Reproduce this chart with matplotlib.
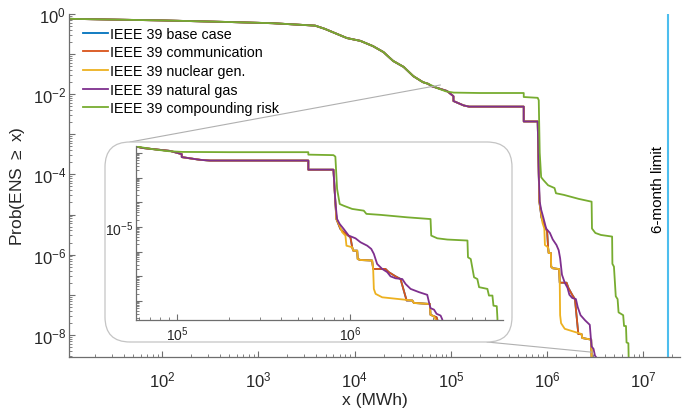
#!/usr/bin/python

import numpy as np
import matplotlib
matplotlib.use("Agg")
import matplotlib.pyplot as plt
from matplotlib.patches import FancyBboxPatch, ConnectionPatch
from matplotlib.ticker import LogLocator, FixedLocator, FuncFormatter, NullFormatter

plt.rcParams['font.family'] = ['Liberation Sans', 'DejaVu Sans']
plt.rcParams['mathtext.default'] = 'regular'

# ---- data as log10 values ----
# shared head of all curves (log10 MWh, log10 prob)
head_lx = [1.03, 2.0, 2.7, 3.15, 3.59, 3.69, 3.82, 3.92, 4.06, 4.19, 4.30, 4.40, 4.51, 4.61, 4.71, 4.763]
head_ly = [-0.12, -0.16, -0.20, -0.23, -0.29, -0.37, -0.50, -0.60, -0.67, -0.80, -0.95, -1.17, -1.32, -1.55, -1.70, -1.74]

# natural gas, up to the big drop (shared with comm / nuclear)
gas_mid_lx = [4.80, 4.96, 5.027, 5.027, 5.094, 5.133, 5.19, 5.757, 5.757, 5.902]
gas_mid_ly = [-1.80, -1.92, -2.05, -2.17, -2.24, -2.28, -2.31, -2.31, -2.68, -2.68]

gas_tail_lx = [5.913, 5.923, 5.938, 5.961, 5.990, 6.029, 6.058, 6.097, 6.120, 6.135, 6.154, 6.183,
               6.212, 6.231, 6.260, 6.299, 6.318, 6.347, 6.395, 6.443, 6.453, 6.462, 6.482, 6.497,
               6.520, 6.530, 6.530]
gas_tail_ly = [-4.0, -4.68, -4.88, -5.08, -5.35, -5.46, -5.62, -5.76, -5.89, -6.09, -6.50, -6.70,
               -6.83, -7.00, -7.08, -7.11, -7.31, -7.51, -7.64, -7.75, -8.05, -8.29, -8.35, -8.52,
               -8.59, -8.75, -9.5]

nuc_tail_lx = [5.913, 5.919, 5.938, 5.952, 5.971, 5.977, 6.010, 6.016, 6.039, 6.042, 6.058, 6.125,
               6.131, 6.135, 6.145, 6.183, 6.357, 6.366, 6.458, 6.462, 6.482, 6.491, 6.491]
nuc_tail_ly = [-4.0, -4.68, -4.95, -5.21, -5.35, -5.76, -5.82, -5.96, -5.96, -6.30, -6.34, -6.36,
               -6.70, -7.51, -7.71, -7.85, -7.98, -8.08, -8.12, -8.56, -8.62, -8.75, -9.5]

comm_tail_lx = [5.913, 5.919, 5.942, 5.961, 6.0, 6.010, 6.016, 6.039, 6.042, 6.058, 6.125, 6.131,
                6.202, 6.221, 6.260, 6.289, 6.324, 6.357, 6.366, 6.458, 6.462, 6.497, 6.501, 6.501]
comm_tail_ly = [-4.0, -4.68, -5.08, -5.21, -5.42, -5.82, -5.96, -5.96, -6.30, -6.34, -6.36, -6.70,
                -6.70, -6.83, -7.00, -7.11, -7.98, -7.98, -8.08, -8.12, -8.56, -8.66, -8.75, -9.5]

comp_tail_lx = [4.80, 4.86, 4.95, 5.03, 5.3, 5.757, 5.757, 5.902, 5.913, 5.923, 5.938, 5.961, 6.010,
                6.077, 6.092, 6.173, 6.328, 6.462, 6.466, 6.501, 6.559, 6.675, 6.678, 6.694, 6.713,
                6.732, 6.742, 6.790, 6.799, 6.819, 6.825, 6.844, 6.848, 6.848]
comp_tail_ly = [-1.78, -1.85, -1.93, -1.96, -1.97, -1.97, -2.07, -2.09, -2.15, -3.46, -4.07, -4.14,
                -4.27, -4.34, -4.47, -4.51, -4.61, -4.68, -5.35, -5.46, -5.51, -5.55, -6.23, -6.30,
                -7.04, -7.11, -7.44, -7.51, -7.78, -7.78, -8.19, -8.21, -8.72, -9.5]

labels = ['IEEE 39 base case', 'IEEE 39 communication', 'IEEE 39 nuclear gen.',
          'IEEE 39 natural gas', 'IEEE 39 compounding risk']
colors = ['#0072BD', '#D95319', '#EDB120', '#7E2F8E', '#77AC30']

# tick exponents
main_xexp = [2, 3, 4, 5, 6, 7]
main_yexp = [0, -1, -2, -3, -4, -5, -6, -7, -8]
main_ylab = [0, -2, -4, -6, -8]
inset_xexp = [5, 6]
inset_yexp = [-2, -3, -4, -5, -6, -7, -8]
inset_ylab = [-5]

limit_x = 1.8e7          # 6-month limit (MWh)
zoom_top = (7.8e4, 1.7e-2)     # where the zoom lines meet the main curves
zoom_bottom = (2.9e6, 3.7e-9)


def build(*parts):
    lx = np.concatenate([p[0] for p in parts])
    ly = np.concatenate([p[1] for p in parts])
    return 10.0 ** lx, 10.0 ** ly


head = (head_lx, head_ly)
gas_mid = (gas_mid_lx, gas_mid_ly)
series = [
    build(head, gas_mid, (comm_tail_lx, comm_tail_ly)),   # base case (hidden under comm)
    build(head, gas_mid, (comm_tail_lx, comm_tail_ly)),
    build(head, gas_mid, (nuc_tail_lx, nuc_tail_ly)),
    build(head, gas_mid, (gas_tail_lx, gas_tail_ly)),
    build(head, (comp_tail_lx, comp_tail_ly)),
]

axcol = '#6e6e6e'
txtcol = '#262626'


def style_axes(ax, fs, xexp, yexp, ylab, xpad):
    for s in ['top', 'right']:
        ax.spines[s].set_visible(False)
    for s in ['left', 'bottom']:
        ax.spines[s].set_color(axcol)
        ax.spines[s].set_linewidth(0.9)
    ax.set_xscale('log')
    ax.set_yscale('log')
    ax.xaxis.set_major_locator(FixedLocator([10.0 ** e for e in xexp]))
    ax.yaxis.set_major_locator(FixedLocator([10.0 ** e for e in yexp]))
    ax.xaxis.set_minor_locator(LogLocator(base=10, subs=np.arange(2, 10), numticks=100))
    ax.yaxis.set_minor_locator(LogLocator(base=10, subs=np.arange(2, 10), numticks=100))
    ax.xaxis.set_minor_formatter(NullFormatter())
    ax.yaxis.set_minor_formatter(NullFormatter())
    ax.xaxis.set_major_formatter(FuncFormatter(lambda v, p: '$10^{%d}$' % round(np.log10(v))))

    def yfmt(v, p):
        e = int(round(np.log10(v)))
        return '$10^{%d}$' % e if e in ylab else ''
    ax.yaxis.set_major_formatter(FuncFormatter(yfmt))
    ax.tick_params(which='both', direction='in', colors=axcol, labelcolor=txtcol, labelsize=fs)
    ax.tick_params(which='major', length=4, width=0.8)
    ax.tick_params(which='minor', length=2, width=0.6)
    ax.tick_params(axis='x', which='major', pad=xpad)
    ax.tick_params(axis='y', which='major', pad=2)


fig = plt.figure(figsize=(6.93, 4.10), dpi=100)
ax = fig.add_axes([69 / 693, 1 - 358 / 410, 611 / 693, 343 / 410])

for (x, y), c, lab in zip(series, colors, labels):
    ax.plot(x, y, color=c, lw=1.3, label=lab)

ax.axvline(limit_x, color='#4DBEEE', lw=1.5)
ax.annotate('6-month limit', xy=(limit_x, 10 ** -4.35), xytext=(-2.0, 0), textcoords='offset points',
            rotation=90, ha='right', va='center', fontsize=11, color='black')

ax.set_xlim(10.8, 2.4e7)
ax.set_ylim(2.8e-9, 1)
style_axes(ax, 12, main_xexp, main_yexp, main_ylab, 9)
ax.set_xlabel('x (MWh)', fontsize=12.5, color=txtcol, labelpad=2)
ax.set_ylabel('Prob(ENS $\\geq$ x)', fontsize=12.5, color=txtcol, labelpad=4)

leg = ax.legend(loc='upper left', bbox_to_anchor=(0.0, 1.005), frameon=False, fontsize=10.3,
                handlelength=1.75, handletextpad=0.15, labelspacing=0.33, borderaxespad=0.6)
for t in leg.get_texts():
    t.set_color('black')

# rounded frame around the inset (inches)
box = FancyBboxPatch((1.05 + 0.25, 0.67 + 0.25), 4.07 - 0.5, 2.0 - 0.5,
                     boxstyle='round,pad=0.25', transform=fig.dpi_scale_trans,
                     facecolor='white', edgecolor='#c4c4c4', lw=0.9, zorder=5)
fig.add_artist(box)

con1 = ConnectionPatch(xyA=zoom_top, coordsA=ax.transData, xyB=(1.30, 2.67),
                       coordsB=fig.dpi_scale_trans, color='#b0b0b0', lw=0.8, zorder=4)
con2 = ConnectionPatch(xyA=zoom_bottom, coordsA=ax.transData, xyB=(4.87, 0.67),
                       coordsB=fig.dpi_scale_trans, color='#b0b0b0', lw=0.8, zorder=4)
fig.add_artist(con1)
fig.add_artist(con2)

axin = fig.add_axes([136 / 693, 1 - 321 / 410, 367 / 693, 174 / 410], zorder=6)
axin.patch.set_alpha(0)
for (x, y), c in zip(series, colors):
    axin.plot(x, y, color=c, lw=1.3)
axin.set_xlim(10 ** 4.763, 10 ** 6.88)
axin.set_ylim(10 ** -8.77, 10 ** -1.72)
style_axes(axin, 10, inset_xexp, inset_yexp, inset_ylab, 3)

fig.savefig('out.png', dpi=100)
